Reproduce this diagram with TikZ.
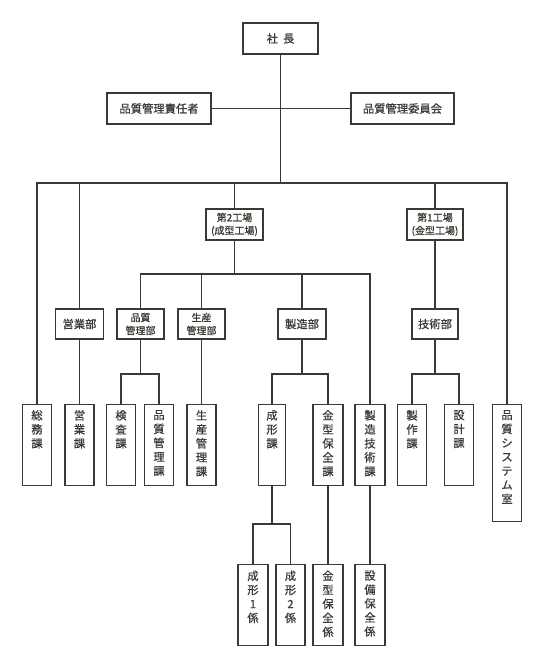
\documentclass[tikz,border=0pt]{standalone}
\usepackage{fontspec}
\setmainfont{Noto Sans CJK JP}[FakeBold=0.7]
\definecolor{ink}{RGB}{58,58,52}
\newcommand{\vt}[2]{\parbox[c][#1][t]{27pt}{\fontsize{11.3}{14}\selectfont\centering\vspace*{6pt}#2}}
\begin{document}
\begin{tikzpicture}[x=1pt,y=-1pt,color=ink,line width=1.3pt,
  hbox/.style={draw, line width=1.3pt, inner sep=0pt, align=center, font=\fontsize{11.3}{13}\selectfont, minimum height=31pt},
  sbox/.style={draw, line width=1.3pt, inner sep=0pt, align=center, font=\fontsize{10}{13}\selectfont, minimum height=30pt},
  vbox/.style={draw, line width=1.3pt, inner sep=0pt, minimum width=29pt, anchor=north}]
\useasboundingbox (0,0) rectangle (550,663);
% top
\node[hbox, minimum width=75pt] (pres) at (280.5,38.5) {社\hspace{5pt}長};
\node[hbox, minimum width=104pt] (qmr) at (159,108.5) {品質管理責任者};
\node[hbox, minimum width=103pt] (qmc) at (402.5,108.5) {品質管理委員会};
\node[sbox, minimum width=57pt, minimum height=31pt] (f2) at (234.5,224.5) {第2工場\\(成型工場)};
\node[sbox, minimum width=56pt, minimum height=31pt] (f1) at (435,224.5) {第1工場\\(金型工場)};
% departments
\node[hbox, minimum width=48pt, minimum height=30pt] (eb) at (79.5,324) {営業部};
\node[sbox, minimum width=47pt] (qmd) at (140.5,324) {品質\\管理部};
\node[sbox, minimum width=47pt] (pcd) at (201.5,324) {生産\\管理部};
\node[hbox, minimum width=48pt, minimum height=30pt] (mfd) at (302,324) {製造部};
\node[hbox, minimum width=46pt, minimum height=30pt] (tech) at (435,324) {技術部};
% sections
\node[vbox] (soumu) at (37,403.5) {\vt{81pt}{総\\務\\課}};
\node[vbox] (ek) at (79.5,403.5) {\vt{81pt}{営\\業\\課}};
\node[vbox] (kensa) at (121,403.5) {\vt{81pt}{検\\査\\課}};
\node[vbox] (hqk) at (159,403.5) {\vt{81pt}{品\\質\\管\\理\\課}};
\node[vbox] (spk) at (201.5,403.5) {\vt{81pt}{生\\産\\管\\理\\課}};
\node[vbox, minimum width=27pt] (sk) at (272,403.5) {\vt{81pt}{成\\形\\課}};
\node[vbox, minimum width=30pt] (kk) at (328,403.5) {\vt{81pt}{金\\型\\保\\全\\課}};
\node[vbox, minimum width=30pt] (sgk) at (370,403.5) {\vt{81pt}{製\\造\\技\\術\\課}};
\node[vbox] (ssk) at (412,403.5) {\vt{81pt}{製\\作\\課}};
\node[vbox] (skk) at (459,403.5) {\vt{81pt}{設\\計\\課}};
\node[vbox] (qsr) at (507,403.5) {\vt{117pt}{品\\質\\シ\\ス\\テ\\ム\\室}};
% sub-sections
\node[vbox, minimum width=30pt] (s1) at (253,564) {\vt{81pt}{成\\形\\1\\係}};
\node[vbox] (s2) at (290.5,564) {\vt{81pt}{成\\形\\2\\係}};
\node[vbox, minimum width=30pt] (kh) at (328,564) {\vt{81pt}{金\\型\\保\\全\\係}};
\node[vbox, minimum width=30pt] (sbh) at (370,564) {\vt{81pt}{設\\備\\保\\全\\係}};
% bus points
\coordinate (b1) at (280.5,183);
\coordinate (b2) at (234.5,274);
\coordinate (b3) at (140.5,374);
\coordinate (b4) at (272,524);
% connectors
\draw (pres) -- (b1);
\draw (qmr) -- (qmc);
\draw (soumu) |- (b1) -| (qsr);
\draw (eb) -- (eb |- b1);
\draw (f2) -- (f2 |- b1);
\draw (f1) -- (f1 |- b1);
\draw (eb) -- (ek);
\draw (f2) -- (b2);
\draw (qmd) |- (b2) -| (sgk);
\draw (pcd) -- (pcd |- b2);
\draw (mfd) -- (mfd |- b2);
\draw (qmd) -- (b3);
\draw (kensa) |- (b3) -| (hqk);
\draw (pcd) -- (spk);
\draw (mfd) -- (mfd |- b3);
\draw (sk) |- (mfd |- b3) -| (kk);
\draw (kk) -- (kh);
\draw (sgk) -- (sbh);
\draw (sk) -- (b4);
\draw (s1) |- (b4) -| (s2);
\draw (f1) -- (tech);
\draw (tech) -- (tech |- b3);
\draw (ssk) |- (tech |- b3) -| (skk);
\end{tikzpicture}
\end{document}
